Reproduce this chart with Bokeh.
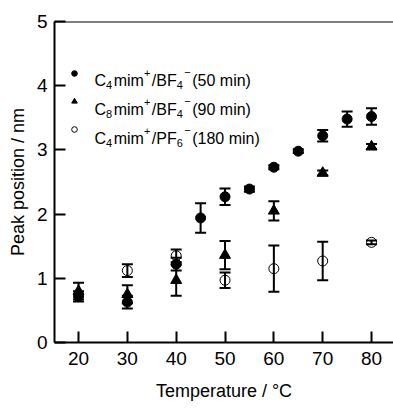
from bokeh.plotting import figure
from bokeh.models import (ColumnDataSource, Whisker, Legend, LegendItem, Span, Range1d,
                          FixedTicker, Label)
from bokeh.embed import file_html
from bokeh.resources import INLINE

# Data
T_c4bf4 = [20, 30, 40, 45, 50, 55, 60, 65, 70, 75, 80]
P_c4bf4 = [0.72, 0.63, 1.22, 1.94, 2.27, 2.39, 2.73, 2.98, 3.22, 3.48, 3.52]
E_c4bf4 = [0.08, 0.10, 0.10, 0.23, 0.13, 0.04, 0.03, 0.03, 0.09, 0.12, 0.13]

T_c8bf4 = [20, 30, 40, 50, 60, 70, 80]
P_c8bf4 = [0.80, 0.75, 0.97, 1.36, 2.05, 2.64, 3.05]
E_c8bf4 = [0.13, 0.14, 0.24, 0.22, 0.15, 0.04, 0.04]

T_c4pf6 = [30, 40, 50, 60, 70, 80]
P_c4pf6 = [1.12, 1.35, 0.97, 1.15, 1.27, 1.56]
E_c4pf6 = [0.10, 0.10, 0.12, 0.36, 0.30, 0.03]

# legend labels as (text, kind) pieces: n = normal, b = subscript, p = superscript
label_c4bf4 = [("C", "n"), ("4", "b"), ("mim", "n"), ("+", "p"), ("/BF", "n"), ("4", "b"), ("\u2212", "p"), (" (50 min)", "n")]
label_c8bf4 = [("C", "n"), ("8", "b"), ("mim", "n"), ("+", "p"), ("/BF", "n"), ("4", "b"), ("\u2212", "p"), (" (90 min)", "n")]
label_c4pf6 = [("C", "n"), ("4", "b"), ("mim", "n"), ("+", "p"), ("/PF", "n"), ("6", "b"), ("\u2212", "p"), (" (180 min)", "n")]

x_ticks = [20, 30, 40, 50, 60, 70, 80]
y_ticks = [0, 1, 2, 3, 4, 5]

FONT = "Liberation Sans"

p = figure(width=393, height=412, output_backend="svg", toolbar_location=None,
           x_range=Range1d(15.08, 84.5), y_range=Range1d(0, 5),
           min_border_left=54, min_border_right=0, min_border_top=21, min_border_bottom=70)
p.outline_line_color = None
p.grid.visible = False

for ax in (p.xaxis, p.yaxis):
    ax.axis_line_width = 2
    ax.axis_line_color = "black"
    ax.major_tick_line_width = 2
    ax.major_tick_line_color = "black"
    ax.major_tick_in = 11
    ax.major_tick_out = 0
    ax.minor_tick_line_color = None
    ax.major_label_text_font = FONT
    ax.major_label_text_font_size = "19px"
    ax.major_label_text_color = "black"
    ax.axis_label_text_font = FONT
    ax.axis_label_text_font_size = "18px"
    ax.axis_label_text_font_style = "normal"
    ax.axis_label_text_color = "black"

p.xaxis.ticker = FixedTicker(ticks=x_ticks)
p.yaxis.ticker = FixedTicker(ticks=y_ticks)
p.xaxis.axis_label = "Temperature / \u00b0C"
p.yaxis.axis_label = "Peak position / nm"
p.xaxis.major_label_standoff = 9
p.yaxis.major_label_standoff = 7
p.xaxis.axis_label_standoff = 13
p.yaxis.axis_label_standoff = 6

p.add_layout(Span(location=5, dimension="width", line_color="black", line_width=2))

def add_series(T, P, E):
    lo = [a - b for a, b in zip(P, E)]
    hi = [a + b for a, b in zip(P, E)]
    src = ColumnDataSource(dict(x=T, y=P, lo=lo, hi=hi))
    w = Whisker(source=src, base="x", lower="lo", upper="hi", line_width=2, line_color="black")
    w.upper_head.size = 11
    w.lower_head.size = 11
    w.upper_head.line_width = 2
    w.lower_head.line_width = 2
    p.add_layout(w)
    return src

s1 = add_series(T_c4bf4, P_c4bf4, E_c4bf4)
s2 = add_series(T_c8bf4, P_c8bf4, E_c8bf4)
s3 = add_series(T_c4pf6, P_c4pf6, E_c4pf6)

r1 = p.scatter("x", "y", source=s1, marker="circle", size=10, fill_color="black", line_color="black")
r2 = p.scatter("x", "y", source=s2, marker="triangle", size=11, fill_color="black", line_color="black")
r3 = p.scatter("x", "y", source=s3, marker="circle", size=10, fill_color="white", fill_alpha=0,
               line_color="black", line_width=1)

# legend glyphs only (texts are drawn below with sub/superscripts)
legend = Legend(items=[LegendItem(label=" ", renderers=[r1]),
                       LegendItem(label=" ", renderers=[r2]),
                       LegendItem(label=" ", renderers=[r3])],
                location=(13, 206), padding=0, margin=0, spacing=14,
                glyph_width=14, glyph_height=14, label_height=14, label_width=1,
                label_standoff=0, label_text_font_size="2px",
                border_line_color=None, background_fill_alpha=0)
p.add_layout(legend)

# Arial / Liberation Sans advance widths (per 1000 em)
ADV = {"C": 722, "m": 833, "i": 222, "n": 556, "/": 278, "B": 667, "F": 611, "P": 667,
       " ": 278, "(": 333, ")": 333, "+": 584, "\u2212": 584}
for d in "0123456789":
    ADV[d] = 556

MAIN, SMALL = 16, 11

def draw_label(pieces, x0, y0):
    x = x0
    for txt, kind in pieces:
        size = MAIN if kind == "n" else SMALL
        dy = {"n": 0, "b": -4, "p": 8}[kind]
        if txt == "\u2212":
            dy = 9
        p.add_layout(Label(x=x, y=y0 + dy, x_units="screen", y_units="screen", text=txt,
                           text_font=FONT, text_font_size=f"{size}px", text_color="black",
                           text_baseline="alphabetic", text_align="left"))
        x += sum(ADV.get(c, 556) for c in txt) * size / 1000.0
        if kind != "n":
            x += 1.5

for i, pieces in enumerate([label_c4bf4, label_c8bf4, label_c4pf6]):
    draw_label(pieces, 40, 262 - 29 * i)

open("out.html", "w").write(file_html(p, INLINE))
